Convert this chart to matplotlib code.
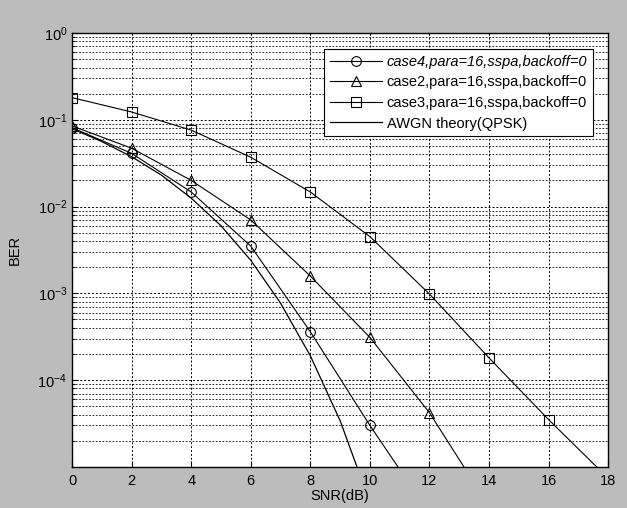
import numpy as np
import matplotlib
matplotlib.use('Agg')
import matplotlib.pyplot as plt
from matplotlib.ticker import LogLocator, NullFormatter

plt.rcParams['font.family'] = ['Liberation Sans', 'DejaVu Sans']
plt.rcParams['mathtext.default'] = 'regular'

# simulated curves
snr = [0, 2, 4, 6, 8, 10, 12, 14, 16, 18]
case4_snr = [0, 2, 4, 6, 8, 10, 12]
case4_ber = [0.081, 0.041, 0.0147, 0.0035, 3.6e-4, 3.0e-5, 2.9e-6]
case2_snr = [0, 2, 4, 6, 8, 10, 12, 14]
case2_ber = [0.085, 0.047, 0.020, 0.0070, 1.58e-3, 3.1e-4, 4.2e-5, 3.5e-6]
case3_ber = [0.18, 0.123, 0.076, 0.037, 0.0147, 0.0045, 9.8e-4, 1.8e-4, 3.5e-5, 7.4e-6]

# AWGN theory curve, 1 dB steps
awgn_snr = [0, 1, 2, 3, 4, 5, 6, 7, 8, 9, 10]
awgn_ber = [0.079, 0.056, 0.0375, 0.023, 0.0125, 0.006, 0.0024, 7.7e-4, 1.9e-4, 3.4e-5, 3.9e-6]

labels = ['case4,para=16,sspa,backoff=0',
          'case2,para=16,sspa,backoff=0',
          'case3,para=16,sspa,backoff=0',
          'AWGN theory(QPSK)']

fig = plt.figure(figsize=(6.27, 5.08), dpi=100, facecolor='#bcbcbc')
ax = fig.add_axes([0.115, 0.081, 0.855, 0.854])

kw = dict(color='black', linewidth=0.8, markersize=7, markerfacecolor='none',
          markeredgewidth=0.8)
ax.semilogy(case4_snr, case4_ber, marker='o', label=labels[0], **kw)
ax.semilogy(case2_snr, case2_ber, marker='^', label=labels[1], **kw)
ax.semilogy(snr, case3_ber, marker='s', label=labels[2], **kw)
ax.semilogy(awgn_snr, awgn_ber, color='black', linewidth=0.9, label=labels[3])

ax.set_xlim(0, 18)
ax.set_ylim(1e-5, 1)
ax.set_xticks(range(0, 19, 2))
ax.set_yticks([1e0, 1e-1, 1e-2, 1e-3, 1e-4])
ax.yaxis.set_minor_locator(LogLocator(base=10, subs=np.arange(2, 10)))
ax.yaxis.set_minor_formatter(NullFormatter())
ax.tick_params(which='both', direction='in', labelsize=10.5, width=0.8)
ax.tick_params(which='minor', length=2)
ax.tick_params(which='major', length=4)
ax.tick_params(axis='x', pad=5)

ax.grid(True, which='major', linestyle=(0, (2, 2)), color='black', linewidth=0.7)
ax.grid(True, which='minor', axis='y', linestyle=(0, (2, 2)), color='black', linewidth=0.6)

for s in ax.spines.values():
    s.set_linewidth(1.0)

ax.set_xlabel('SNR(dB)', fontsize=10.5, labelpad=1)
ax.set_ylabel('BER', fontsize=10.5)
ax.yaxis.set_label_coords(-0.093, 0.5)

leg = ax.legend(loc='upper right', fontsize=10.5, handlelength=3.6,
                fancybox=False, edgecolor='black', framealpha=1,
                labelspacing=0.45, borderpad=0.4, handletextpad=0.3,
                bbox_to_anchor=(0.985, 0.98))
leg.get_frame().set_linewidth(0.8)
leg.get_texts()[0].set_style('italic')

fig.savefig('out.png', dpi=100, facecolor=fig.get_facecolor())
